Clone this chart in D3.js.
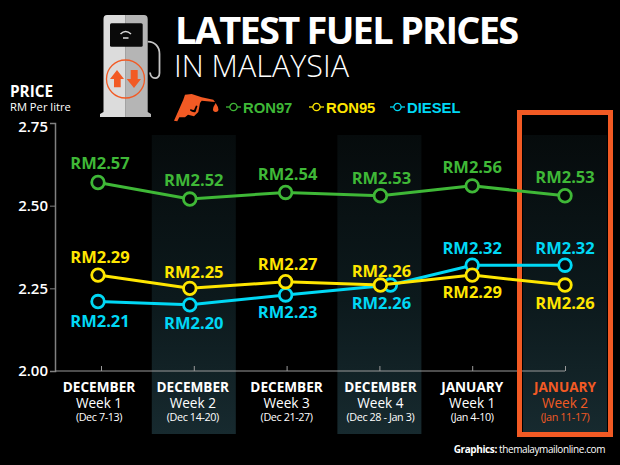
<!DOCTYPE html>
<html>
<head>
<meta charset="utf-8">
<script src="https://cdn.jsdelivr.net/npm/d3@7"></script>
<style>
html, body { margin: 0; padding: 0; background: #000; }
svg { display: block; font-family: "Open Sans", sans-serif; }
</style>
</head>
<body>
<div id="chart"></div>
<script>
// data
var months = ["DECEMBER", "DECEMBER", "DECEMBER", "DECEMBER", "JANUARY", "JANUARY"];
var weeks = ["Week 1", "Week 2", "Week 3", "Week 4", "Week 1", "Week 2"];
var ranges = ["(Dec 7-13)", "(Dec 14-20)", "(Dec 21-27)", "(Dec 28 - Jan 3)", "(Jan 4-10)", "(Jan 11-17)"];
var ron97 = [2.57, 2.52, 2.54, 2.53, 2.56, 2.53];
var ron95 = [2.29, 2.25, 2.27, 2.26, 2.29, 2.26];
var diesel = [2.21, 2.20, 2.23, 2.26, 2.32, 2.32];
var yTicks = [2.00, 2.25, 2.50, 2.75];

var width = 620, height = 465;
var green = "#3fb837", yellow = "#ffe600", cyan = "#00d8f5", orange = "#f25a24";

var svg = d3.select("#chart").append("svg")
  .attr("width", width)
  .attr("height", height);

var defs = svg.append("defs");
var grad = defs.append("linearGradient").attr("id", "band")
  .attr("x1", 0).attr("y1", 0).attr("x2", 0).attr("y2", 1);
grad.append("stop").attr("offset", "0%").attr("stop-color", "#060b0c");
grad.append("stop").attr("offset", "55%").attr("stop-color", "#0c191c");
grad.append("stop").attr("offset", "100%").attr("stop-color", "#172a2f");

var x = d3.scalePoint().domain(d3.range(6)).range([101, 565]);
var y = d3.scaleLinear().domain([2, 2.75]).range([371, 123]);

// shaded columns behind weeks 2, 4 and 6
svg.selectAll("rect.band")
  .data([1, 3, 5])
  .join("rect")
  .attr("class", "band")
  .attr("x", function (d) { return x(d) - 42; })
  .attr("y", 135)
  .attr("width", 84)
  .attr("height", 299)
  .attr("fill", "url(#band)");

// axes
var yAxis = svg.append("g")
  .attr("transform", "translate(55,0)")
  .call(d3.axisLeft(y).tickValues(yTicks).tickFormat(d3.format(".2f")).tickSize(5).tickSizeOuter(5));
yAxis.select(".domain").attr("stroke", "#808080").attr("stroke-width", 1.5);
yAxis.selectAll(".tick line").attr("stroke", "#808080");
yAxis.selectAll("text")
  .attr("x", -7)
  .attr("dy", function (d) { return d == 2.75 ? "0.55em" : "0.32em"; })
  .attr("fill", "#fff")
  .attr("font-family", "Open Sans")
  .attr("font-size", 15)
  .attr("font-weight", 600);

var xAxis = svg.append("g")
  .attr("transform", "translate(0,371)")
  .call(d3.axisTop(x).tickSize(5).tickSizeOuter(0).tickFormat(""));
xAxis.select(".domain").attr("d", "M55,0H565").attr("stroke", "#9a9a9a");
xAxis.selectAll(".tick line").attr("stroke", "#9a9a9a");

// frame round the latest week
svg.append("rect")
  .attr("x", x(5) - 45.5)
  .attr("y", 112.5)
  .attr("width", 91)
  .attr("height", 322)
  .attr("fill", "none")
  .attr("stroke", orange)
  .attr("stroke-width", 5);

// series, the x shift moves points off the tick where the picture has them off it
var seriesList = [
  { name: "RON97", values: ron97, color: green, shift: [-3, -4, -1, 1, 0, 0], side: [-1, -1, -1, -1, -1, -1], gap: [19, 19, 18, 17, 18, 18] },
  { name: "RON95", values: ron95, color: yellow, shift: [-3, -4, -1, 1, 0, 0], side: [-1, -1, -1, -1, 1, 1], gap: [18, 16, 17, 14, 17, 18] },
  { name: "DIESEL", values: diesel, color: cyan, shift: [-3, -4, -1, 11, 0, 0], side: [1, 1, 1, 1, -1, -1], gap: [20, 19, 18, 18, 17, 17] }
];

var line = d3.line()
  .x(function (d) { return d.px; })
  .y(function (d) { return y(d.v); });

seriesList.forEach(function (s) {
  s.points = s.values.map(function (v, i) { return { v: v, px: x(i) + s.shift[i], i: i }; });
});

// diesel goes under the yellow line, same as the picture
[seriesList[0], seriesList[2], seriesList[1]].forEach(function (s) {
  svg.append("path")
    .attr("d", line(s.points))
    .attr("fill", "none")
    .attr("stroke", s.color)
    .attr("stroke-width", 3);

  svg.selectAll("circle.p" + s.name)
    .data(s.points)
    .join("circle")
    .attr("class", "p" + s.name)
    .attr("cx", function (d) { return d.px; })
    .attr("cy", function (d) { return y(d.v); })
    .attr("r", 6.3)
    .attr("fill", "#040808")
    .attr("stroke", s.color)
    .attr("stroke-width", 2.8);
});

var labelShift = [-1, 0, 1, 2, 0, 0];
seriesList.forEach(function (s) {
  svg.selectAll("text.l" + s.name)
    .data(s.points)
    .join("text")
    .attr("class", "l" + s.name)
    .attr("x", function (d) { return x(d.i) + labelShift[d.i]; })
    .attr("y", function (d) { return y(d.v) + s.side[d.i] * s.gap[d.i] + 5.5; })
    .attr("text-anchor", "middle")
    .attr("font-size", 16.5)
    .attr("font-weight", 700)
    .attr("fill", s.color)
    .text(function (d) { return "RM" + d.v.toFixed(2); });
});

// x labels
var xLabelShift = [-2, -1, 0, 1, 0, 0];
var xLabels = svg.selectAll("g.xl")
  .data(d3.range(6))
  .join("g")
  .attr("class", "xl")
  .attr("transform", function (d) { return "translate(" + (x(d) + xLabelShift[d]) + ",0)"; })
  .attr("text-anchor", "middle")
  .attr("fill", function (d) { return d == 5 ? orange : "#fff"; });
xLabels.append("text").attr("y", 392).attr("font-size", 13.6).attr("font-weight", 700)
  .text(function (d) { return months[d]; });
xLabels.append("text").attr("y", 408).attr("font-size", 13.6)
  .text(function (d) { return weeks[d]; });
xLabels.append("text").attr("y", 421).attr("font-size", 10.8).attr("letter-spacing", -0.4)
  .text(function (d) { return ranges[d]; });

// headings
svg.append("text").attr("x", 175).attr("y", 44).attr("fill", "#fff")
  .attr("font-size", 38).attr("font-weight", 700).attr("letter-spacing", -1.75)
  .text("LATEST FUEL PRICES");
svg.append("text").attr("x", 174).attr("y", 77).attr("fill", "#fff")
  .attr("font-size", 30.5).attr("font-weight", 300)
  .text("IN MALAYSIA");
svg.append("text").attr("x", 10).attr("y", 97).attr("fill", "#fff")
  .attr("font-size", 15.3).attr("font-weight", 700)
  .text("PRICE");
svg.append("text").attr("x", 10).attr("y", 111).attr("fill", "#fff")
  .attr("font-size", 11.2)
  .text("RM Per litre");
svg.append("text").attr("x", 605).attr("y", 453).attr("fill", "#fff")
  .attr("text-anchor", "end").attr("font-size", 10).attr("letter-spacing", -0.4)
  .html('<tspan font-weight="700">Graphics:</tspan> themalaymailonline.com');

// legend
var legendX = [226, 309, 390];
var legend = svg.selectAll("g.leg")
  .data(seriesList)
  .join("g")
  .attr("class", "leg")
  .attr("transform", function (d, i) { return "translate(" + legendX[i] + ",107)"; });
legend.append("line").attr("x1", 0).attr("x2", 15).attr("stroke", function (d) { return d.color; }).attr("stroke-width", 1.3);
legend.append("circle").attr("cx", 7.5).attr("r", 3.6).attr("fill", "#000")
  .attr("stroke", function (d) { return d.color; }).attr("stroke-width", 1.3);
legend.append("text").attr("x", 17).attr("y", 5.5)
  .attr("font-family", "Liberation Sans").attr("font-weight", 700).attr("font-size", 14.8)
  .attr("fill", function (d) { return d.color; })
  .text(function (d) { return d.name; });

// pump icon
var pump = svg.append("g");
pump.append("path").attr("fill", "#dcdcdc")
  .attr("d", "M125.7,15H107Q103.5,15 103.5,19V112L100,114V117H125.7Z");
pump.append("path").attr("fill", "#b5b5b5")
  .attr("d", "M125.7,15H144Q147.7,15 147.7,19V112L151,114V117H125.7Z");
pump.append("rect").attr("x", 110).attr("y", 23.3).attr("width", 32.7).attr("height", 23.4).attr("rx", 1.5).attr("fill", "#0a0a0a");
pump.append("path").attr("fill", "none").attr("stroke", "#ddd").attr("stroke-width", 1.5)
  .attr("d", "M120.5,34Q125.5,29 131,34M123,38H128.5");
pump.append("path").attr("fill", "none").attr("stroke", "#c4c4c4").attr("stroke-width", 1.8)
  .attr("d", "M147.7,41.7C155,41.7 159.5,47 159.5,54V73C159.5,80 151,80 150,72.5");
pump.append("circle").attr("cx", 125.5).attr("cy", 79).attr("r", 19).attr("fill", "none").attr("stroke", orange).attr("stroke-width", 1.3);
pump.append("path").attr("fill", orange)
  .attr("d", "M117,70L124,79H120.7V87.3H114V79H110Z");
pump.append("path").attr("fill", orange)
  .attr("d", "M134,88L126.7,79H130.7V70H137.7V79H141Z");

// nozzle icon
var nozzle = svg.append("g").attr("fill", orange);
nozzle.append("path")
  .attr("d", "M174,120.7L183.3,99.7L185,94.7L191.7,94L201.7,97.3L213.3,99.7L215,102L201.7,100.7L200,103L198.3,112L194,116.3L188,114.7L185,117.3L179.3,117.3L177.3,121.3Z");
nozzle.append("path").attr("fill", "#000")
  .attr("d", "M190,110.5Q193,113 195.5,112L197.5,106L196,105.5L194,110Q192,110 190.5,109Z");
nozzle.append("path").attr("d", "M215.7,103Q218.4,107 218.4,109.3A2.7,2.7 0 1 1 213,109.3Q213,107 215.7,103Z");
</script>
</body>
</html>
